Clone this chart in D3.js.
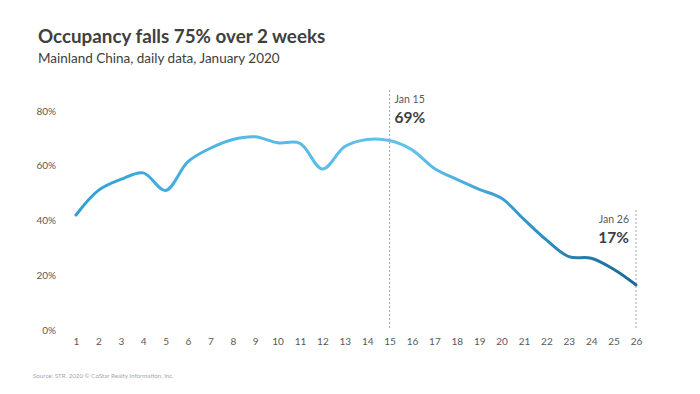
<!DOCTYPE html>
<html><head><meta charset="utf-8">
<script src="https://cdn.jsdelivr.net/npm/d3@7"></script>
<style>
html,body{margin:0;padding:0;background:#fff;}
svg{display:block;font-family:Lato,"Open Sans",sans-serif;}
</style></head>
<body><div id="chart"></div>
<script>
const days = [1,2,3,4,5,6,7,8,9,10,11,12,13,14,15,16,17,18,19,20,21,22,23,24,25,26];
const occupancy = [42,51,55,57.4,51,61.5,66.4,69.6,70.6,68.4,68.2,58.8,67,69.6,69.2,65.8,59,55,51.4,48.1,40.4,32.9,26.8,26.2,22.2,16.5];
const yTicks = [0,20,40,60,80];
const annotations = [{day:15, label:"Jan 15", value:"69%", top:90, side:"right"},
                     {day:26, label:"Jan 26", value:"17%", top:210, side:"left"}];

const W=700,H=394;
const svg=d3.select("#chart").append("svg").attr("width",W).attr("height",H);
const x=d3.scaleLinear().domain([1,26]).range([76,636]);
const y=d3.scaleLinear().domain([0,80]).range([330,111]);

svg.append("text").attr("x",38).attr("y",43).attr("font-size",18.8).attr("font-weight",700).attr("fill","#404040").text("Occupancy falls 75% over 2 weeks");
svg.append("text").attr("x",38).attr("y",63).attr("font-size",13.5).attr("fill","#404040").text("Mainland China, daily data, January 2020");

const defs=svg.append("defs");
const grad=defs.append("linearGradient").attr("id","lg").attr("gradientUnits","userSpaceOnUse")
  .attr("x1",x(1)).attr("x2",x(26)).attr("y1",0).attr("y2",0);
[[0,"#2f9fd6"],[0.3,"#55b9e4"],[0.6,"#62c2e9"],[0.76,"#3a9fd2"],[0.88,"#2683b6"],[1,"#1b6994"]].forEach(s=>grad.append("stop").attr("offset",s[0]).attr("stop-color",s[1]));

const yAxis=d3.axisLeft(y).tickValues(yTicks).tickFormat(d=>d+"%").tickSize(0).tickPadding(0);
const ya=svg.append("g").attr("transform","translate(56,0)").call(yAxis);
ya.select(".domain").remove();
ya.selectAll("text").attr("font-size",10).attr("fill","#595959").attr("font-family","Lato,'Open Sans',sans-serif");

const xAxis=d3.axisBottom(x).tickValues(days).tickFormat(d3.format("d")).tickSize(0).tickPadding(0);
const xa=svg.append("g").attr("transform","translate(0,338)").call(xAxis);
xa.select(".domain").remove();
xa.selectAll("text").attr("font-size",10).attr("fill","#595959").attr("font-family","Lato,'Open Sans',sans-serif");

annotations.forEach(a=>{
  svg.append("line").attr("x1",x(a.day)).attr("x2",x(a.day)).attr("y1",a.top).attr("y2",y(0))
    .attr("stroke","#8c8c8c").attr("stroke-width",0.8).attr("stroke-dasharray","2,2");
  const tx = a.side==="right" ? x(a.day)+5 : x(a.day)-7;
  const anchor = a.side==="right" ? "start":"end";
  svg.append("text").attr("x",tx).attr("y",a.top+13).attr("font-size",10.5).attr("fill","#595959").attr("text-anchor",anchor).text(a.label);
  svg.append("text").attr("x",tx).attr("y",a.top+33).attr("font-size",15.5).attr("font-weight",700).attr("fill","#404040").attr("text-anchor",anchor).text(a.value);
});

const line=d3.line().x((d,i)=>x(days[i])).y(d=>y(d)).curve(d3.curveCatmullRom.alpha(0.5));
svg.append("path").datum(occupancy).attr("d",line).attr("fill","none").attr("stroke","url(#lg)").attr("stroke-width",3).attr("stroke-linecap","round");

svg.append("text").attr("x",33).attr("y",378).attr("font-size",6.2).attr("fill","#a6a6a6").text("Source: STR. 2020 © CoStar Realty Information, Inc.");
</script></body></html>
